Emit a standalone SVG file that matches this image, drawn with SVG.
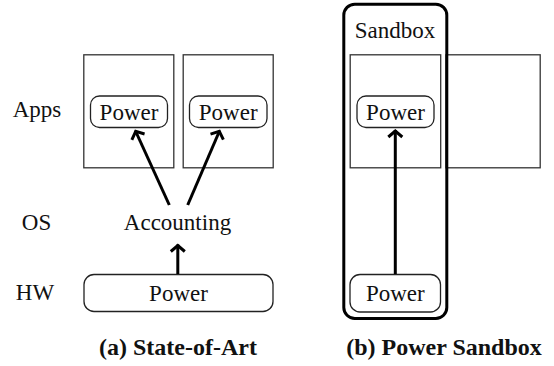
<svg xmlns="http://www.w3.org/2000/svg" width="554" height="366" viewBox="0 0 554 366">
  <style>
    text { font-family: "Liberation Serif", "DejaVu Serif", serif; font-size: 23px; fill: #111; text-anchor: middle; }
    .cap { font-weight: bold; font-size: 24px; }
    .box { fill: none; stroke: #333; stroke-width: 1.3; }
    .pill { fill: #fff; stroke: #222; stroke-width: 1.3; }
    .sandbox { fill: none; stroke: #000; stroke-width: 3; }
    .edge { fill: none; stroke: #000; stroke-width: 3; marker-end: url(#chev); }
  </style>
  <defs>
    <marker id="chev" viewBox="-10 -10 14 20" markerUnits="userSpaceOnUse" markerWidth="14" markerHeight="20" refX="1" refY="0" orient="auto">
      <path d="M-6,-7 L0,0 L-6,7" fill="none" stroke="#000" stroke-width="3" stroke-linejoin="miter"/>
    </marker>
  </defs>

  <!-- layer labels -->
  <g id="labels">
    <text x="37" y="117">Apps</text>
    <text x="36.5" y="230">OS</text>
    <text x="35" y="300">HW</text>
  </g>

  <!-- (a) state of the art -->
  <g id="app-a1">
    <rect class="box" x="83.8" y="54.8" width="90" height="113"/>
  </g>
  <g id="app-a2">
    <rect class="box" x="183.2" y="54.8" width="90" height="113"/>
  </g>
  <g id="power-a1">
    <rect class="pill" x="90.5" y="96" width="77" height="31.5" rx="9"/>
    <text x="129" y="119.5">Power</text>
  </g>
  <g id="power-a2">
    <rect class="pill" x="189.5" y="96" width="77.5" height="31.5" rx="9"/>
    <text x="228.2" y="119.5">Power</text>
  </g>
  <g id="accounting">
    <text x="177.5" y="230">Accounting</text>
  </g>
  <g id="hw-power">
    <rect class="pill" x="84" y="274.5" width="189" height="37" rx="10"/>
    <text x="178.5" y="300.5">Power</text>
  </g>

  <!-- (b) power sandbox -->
  <g id="app-b2">
    <rect class="box" x="446" y="54.8" width="94.2" height="113"/>
  </g>
  <g id="sandbox">
    <rect class="sandbox" x="343.8" y="4.2" width="103" height="314.3" rx="11"/>
    <text x="395" y="38">Sandbox</text>
  </g>
  <g id="app-b1">
    <rect class="box" x="350.2" y="54.8" width="90.5" height="113"/>
  </g>
  <g id="power-b1">
    <rect class="pill" x="357" y="96" width="77" height="31.5" rx="9"/>
    <text x="395.5" y="119.5">Power</text>
  </g>
  <g id="power-b2">
    <rect class="pill" x="350" y="274.5" width="90.5" height="37.5" rx="10"/>
    <text x="395.3" y="300.5">Power</text>
  </g>

  <!-- connectors -->
  <g id="connectors">
    <line class="edge" x1="169.3" y1="205" x2="135.3" y2="130.5"/>
    <line class="edge" x1="187.7" y1="205" x2="219.7" y2="130.5"/>
    <line class="edge" x1="177.8" y1="274" x2="177.8" y2="244.5"/>
    <line class="edge" x1="395.3" y1="274" x2="395.3" y2="130"/>
  </g>

  <!-- captions -->
  <g id="captions">
    <text class="cap" x="178" y="355">(a) State-of-Art</text>
    <text class="cap" x="444" y="355">(b) Power Sandbox</text>
  </g>
</svg>
